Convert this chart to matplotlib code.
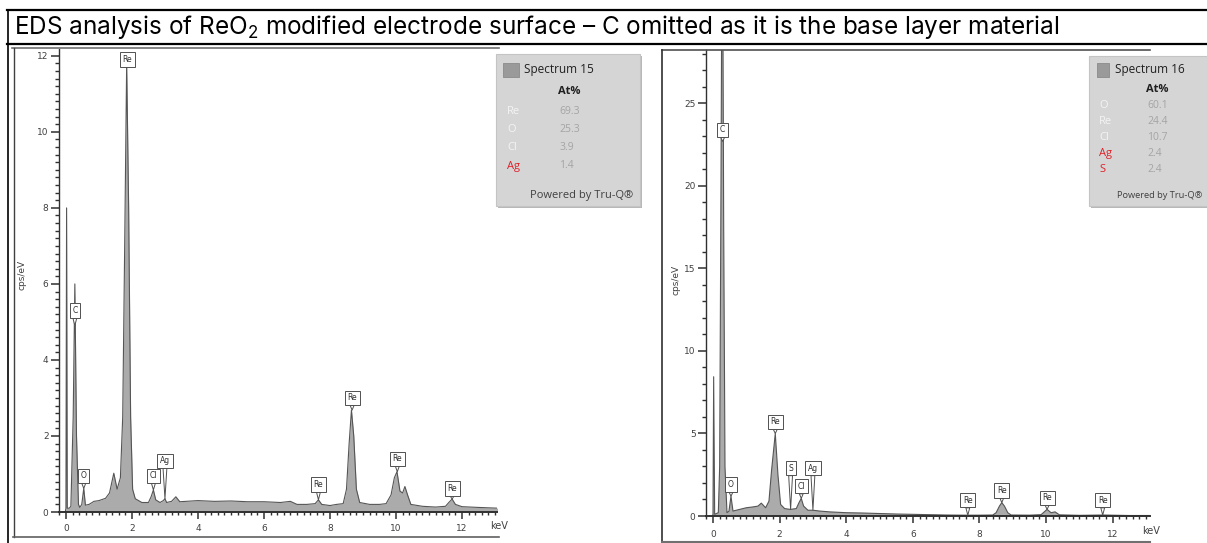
import matplotlib
matplotlib.use('Agg')
import matplotlib.pyplot as plt
from matplotlib.lines import Line2D
from matplotlib.patches import Rectangle
from matplotlib.ticker import MultipleLocator

# --- data ---
energy15 = [-0.02, 0.0, 0.02, 0.04, 0.1, 0.15, 0.22, 0.27, 0.32, 0.38, 0.42, 0.48, 0.54,
            0.59, 0.7, 0.85, 1.0, 1.2, 1.32, 1.45, 1.55, 1.65, 1.72, 1.78, 1.84, 1.9,
            1.96, 2.02, 2.1, 2.3, 2.5, 2.58, 2.65, 2.72, 2.85, 2.95, 3.0, 3.05, 3.2,
            3.33, 3.45, 4.0, 4.5, 5.0, 5.5, 6.0, 6.5, 6.8, 7.0, 7.3, 7.55, 7.65, 7.75,
            8.0, 8.2, 8.4, 8.5, 8.58, 8.65, 8.72, 8.8, 8.9, 9.2, 9.5, 9.7, 9.85, 9.95,
            10.03, 10.12, 10.2, 10.27, 10.35, 10.45, 10.8, 11.2, 11.5, 11.6, 11.7, 11.8,
            12.0, 12.5, 13.1]
counts15 = [0.0, 0.1, 8.0, 0.1, 0.1, 0.15, 2.5, 6.0, 2.0, 0.2, 0.12, 0.2, 0.62,
            0.18, 0.2, 0.28, 0.3, 0.36, 0.5, 1.02, 0.6, 0.9, 2.5, 7.0, 11.8, 8.0,
            2.5, 0.6, 0.35, 0.25, 0.25, 0.4, 0.58, 0.32, 0.25, 0.3, 0.35, 0.25, 0.28,
            0.4, 0.27, 0.3, 0.28, 0.29, 0.27, 0.27, 0.25, 0.28, 0.2, 0.2, 0.22, 0.32, 0.2,
            0.17, 0.2, 0.22, 0.6, 1.8, 2.68, 2.0, 0.6, 0.25, 0.2, 0.2, 0.22, 0.45, 0.9,
            1.06, 0.55, 0.5, 0.67, 0.45, 0.2, 0.15, 0.13, 0.15, 0.25, 0.34, 0.2,
            0.14, 0.12, 0.1]

energy16 = [-0.02, 0.0, 0.02, 0.05, 0.1, 0.16, 0.2, 0.24, 0.28, 0.32, 0.36, 0.42, 0.48,
            0.54, 0.6, 0.8, 1.0, 1.2, 1.35, 1.45, 1.58, 1.68, 1.76, 1.87, 1.95, 2.03,
            2.15, 2.32, 2.5, 2.58, 2.65, 2.72, 2.85, 3.0, 3.2, 3.5, 4.0, 4.5, 5.0, 5.5,
            6.0, 6.5, 7.0, 7.5, 8.0, 8.4, 8.5, 8.6, 8.67, 8.75, 8.85, 8.95, 9.5, 9.85,
            10.03, 10.15, 10.27, 10.4, 11.0, 11.7, 12.5, 13.1]
counts16 = [0.0, 0.1, 8.44, 0.1, 0.15, 0.2, 3.0, 20.0, 40.0, 18.0, 3.0, 0.2, 0.3,
            1.2, 0.3, 0.4, 0.5, 0.55, 0.6, 0.78, 0.5, 0.9, 2.8, 5.0, 2.5, 0.7,
            0.45, 0.4, 0.45, 0.8, 1.07, 0.6, 0.35, 0.35, 0.3, 0.25, 0.2, 0.18, 0.15, 0.12,
            0.1, 0.08, 0.06, 0.05, 0.05, 0.06, 0.2, 0.6, 0.81, 0.6, 0.2, 0.06, 0.05, 0.08,
            0.4, 0.2, 0.25, 0.07, 0.04, 0.06, 0.03, 0.03]

# peak labels: element, energy, tip height, box height
labels15 = [('Re', 1.86, 11.8, 11.9), ('C', 0.27, 4.9, 5.3), ('O', 0.54, 0.62, 0.95),
            ('Cl', 2.65, 0.58, 0.95), ('Ag', 3.0, 0.35, 1.35), ('Re', 7.65, 0.32, 0.72),
            ('Re', 8.67, 2.68, 3.0), ('Re', 10.04, 1.06, 1.4), ('Re', 11.7, 0.34, 0.62)]
labels16 = [('C', 0.29, 22.7, 23.4), ('O', 0.54, 1.2, 1.9), ('Re', 1.87, 5.0, 5.7),
            ('S', 2.33, 0.4, 2.9), ('Cl', 2.65, 1.07, 1.8), ('Ag', 3.0, 0.35, 2.9),
            ('Re', 7.65, 0.05, 0.95), ('Re', 8.67, 0.81, 1.55), ('Re', 10.03, 0.4, 1.1),
            ('Re', 11.7, 0.06, 0.95)]

# quantification tables
elements15 = ['Re', 'O', 'Cl', 'Ag']
atpct15 = ['69.3', '25.3', '3.9', '1.4']
elements16 = ['O', 'Re', 'Cl', 'Ag', 'S']
atpct16 = ['60.1', '24.4', '10.7', '2.4', '2.4']
red_elements = {'Ag', 'S'}

title = (r'EDS analysis of ReO$_\mathregular{2}$ modified electrode surface '
         '\u2013 C omitted as it is the base layer material')

plt.rcParams['mathtext.fontset'] = 'custom'
plt.rcParams['mathtext.rm'] = 'Inter'

W, H = 1207, 543
fig = plt.figure(figsize=(W / 100, H / 100), dpi=100)
fig.patch.set_facecolor('white')


def fx(x):
    return x / W


def fy(y):
    return 1 - y / H


def fline(x0, y0, x1, y1, color='black', lw=1.5):
    fig.add_artist(Line2D([fx(x0), fx(x1)], [fy(y0), fy(y1)], color=color, lw=lw,
                          transform=fig.transFigure))


# table borders
fline(7, 10, 1207, 10, lw=1.6)
fline(7.5, 10, 7.5, 543, lw=1.2)
fline(7, 43.5, 1207, 43.5, lw=1.6)
fig.text(fx(14), fy(27), title, fontsize=17.5, va='center', ha='left',
         family='Inter', color='black')

# screenshot frames
fline(12, 48, 499, 48, color='#707070', lw=1.2)
fline(13.5, 48, 13.5, 537, color='#404040', lw=1.0)
fline(13, 537, 499, 537, color='#606060', lw=1.2)
fline(662, 50, 1150, 50, color='#505050', lw=1.2)
fline(662, 50, 662, 543, color='#303030', lw=1.2)
fline(662, 541.5, 1150, 541.5, color='#707070', lw=1.5)


def spectrum_axes(left, top, right, bottom, xlim, ylim, ymajor, yminor):
    ax = fig.add_axes([fx(left), fy(bottom), fx(right - left), (bottom - top) / H])
    ax.set_xlim(*xlim)
    ax.set_ylim(*ylim)
    ax.patch.set_alpha(0)
    for s in ('top', 'right'):
        ax.spines[s].set_visible(False)
    ax.spines['left'].set_color('#303030')
    ax.spines['bottom'].set_color('#303030')
    ax.spines['left'].set_linewidth(1.0)
    ax.spines['bottom'].set_linewidth(1.4)
    ax.xaxis.set_major_locator(MultipleLocator(2))
    ax.xaxis.set_minor_locator(MultipleLocator(0.2))
    ax.yaxis.set_major_locator(MultipleLocator(ymajor))
    ax.yaxis.set_minor_locator(MultipleLocator(yminor))
    ax.tick_params(which='major', length=6, width=1.1, color='#303030',
                   labelsize=6.5, labelcolor='#404040')
    ax.tick_params(which='minor', length=3, width=1.0, color='#303030')
    ax.tick_params(axis='y', pad=1.5)
    ax.tick_params(axis='x', which='major', length=5, pad=3.5)
    ax.tick_params(axis='x', which='minor', length=2.5)
    return ax


def draw_spectrum(ax, energy, counts, labels):
    ax.fill_between(energy, counts, 0, color='#ababab', lw=0)
    ax.plot(energy, counts, color='#555555', lw=0.8)
    for el, e, ytip, ybox in labels:
        ax.annotate(el, xy=(e, ytip), xytext=(e, ybox), ha='center', va='center',
                    fontsize=5.5, color='#303030', family='DejaVu Sans',
                    bbox=dict(boxstyle='square,pad=0.35', fc='white', ec='#505050', lw=0.7),
                    arrowprops=dict(arrowstyle='wedge,tail_width=0.5,shrink_factor=0.5',
                                    fc='white', ec='#505050', lw=0.7,
                                    shrinkA=0, shrinkB=0))


ax1 = spectrum_axes(59, 49, 497, 512, (-0.21, 13.06), (0, 12.18), 2, 0.2)
draw_spectrum(ax1, energy15, counts15, labels15)
ax2 = spectrum_axes(706, 50, 1150, 516, (-0.21, 13.12), (0, 28.24), 5, 1)
draw_spectrum(ax2, energy16, counts16, labels16)
ax2.tick_params(axis='x', which='major', pad=5)

fig.text(fx(22), fy(275), 'cps/eV', rotation=90, fontsize=6.5, color='#404040',
         ha='center', va='center')
fig.text(fx(676), fy(280), 'cps/eV', rotation=90, fontsize=6.5, color='#404040',
         ha='center', va='center')
fig.text(fx(499), fy(526), 'keV', fontsize=7, color='#404040', ha='center', va='center')
fig.text(fx(1151), fy(531), 'keV', fontsize=7, color='#404040', ha='center', va='center')


def quant_box(x0, y0, x1, y1, name, swatch, name_x, at_x, at_y, el_x, rows_y,
              elements, values, powered_x, powered_size):
    fig.add_artist(Rectangle((fx(x0 + 2), fy(y1 + 2)), fx(x1 - x0), (y1 - y0) / H,
                             transform=fig.transFigure, fc='#b8b8b8', ec='none'))
    fig.add_artist(Rectangle((fx(x0), fy(y1)), fx(x1 - x0), (y1 - y0) / H,
                             transform=fig.transFigure, fc='#d5d5d5', ec='#c4c4c4', lw=0.8))
    sx0, sy0, sx1, sy1 = swatch
    fig.add_artist(Rectangle((fx(sx0), fy(sy1)), fx(sx1 - sx0), (sy1 - sy0) / H,
                             transform=fig.transFigure, fc='#9a9a9a', ec='#8a8a8a', lw=0.6))
    fig.text(fx(name_x), fy((sy0 + sy1) / 2), name, fontsize=8.5, color='#202020',
             ha='left', va='center', family='Open Sans')
    fig.text(fx(at_x), fy(at_y), 'At%', fontsize=8, color='#202020', weight='bold',
             ha='left', va='center', family='Open Sans')
    for el, val, ry in zip(elements, values, rows_y):
        col = '#e0202a' if el in red_elements else '#f4f4f4'
        fig.text(fx(el_x), fy(ry), el, fontsize=8, color=col, ha='left', va='center',
                 family='Open Sans')
        fig.text(fx(at_x + 1), fy(ry), val, fontsize=7.5, color='#a4a4a4', ha='left',
                 va='center', family='Open Sans')
    fig.text(fx(powered_x), fy(195), 'Powered by Tru-Q\u00ae', fontsize=powered_size,
             color='#404040', ha='left', va='center', family='Open Sans')


quant_box(496, 54, 640, 206, 'Spectrum 15', (503, 63, 519, 77), 524, 558, 92, 507,
          [111, 129, 147, 166], elements15, atpct15, 530, 8)
quant_box(1089, 56, 1215, 206, 'Spectrum 16', (1097, 63, 1109, 77), 1115, 1146, 90, 1099,
          [105, 122, 137, 154, 170], elements16, atpct16, 1117, 6.7)

fig.savefig('out.png', dpi=100)
